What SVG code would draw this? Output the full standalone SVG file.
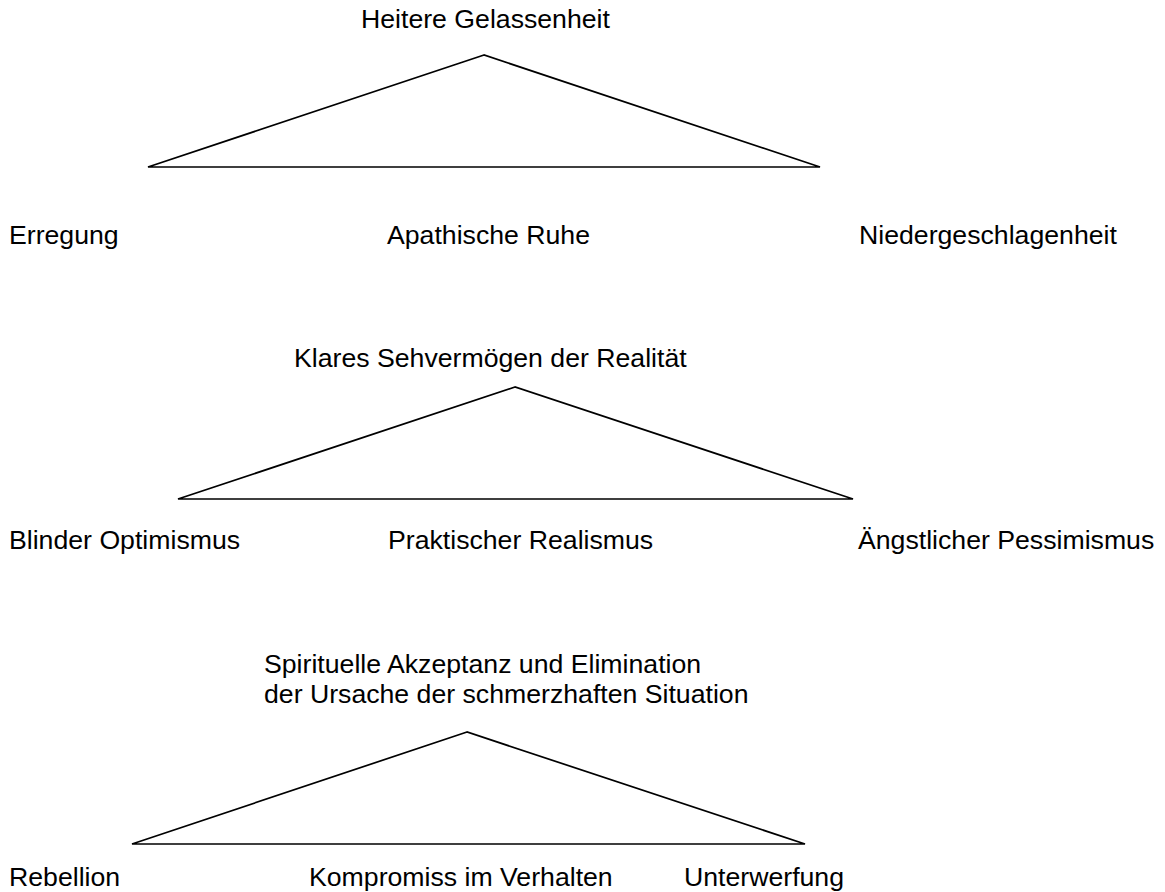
<svg xmlns="http://www.w3.org/2000/svg" width="1165" height="892" viewBox="0 0 1165 892">
<style>
text{font-family:"Liberation Sans",Arial,sans-serif;font-size:26.67px;fill:#000}
.tri{fill:none;stroke:#000;stroke-width:1.7;stroke-linejoin:miter}
</style>
<rect width="1165" height="892" fill="#fff"/>
<g id="connectors">
<polygon class="tri" points="484,55 148,167 820,167"/>
<polygon class="tri" points="515,387 178,499 853,499"/>
<polygon class="tri" points="467,732 132,844 805,844"/>
</g>
<g id="n-heitere"><text x="361" y="28">Heitere Gelassenheit</text></g>
<g id="n-erregung"><text x="9" y="244">Erregung</text></g>
<g id="n-apathische"><text x="387" y="244">Apathische Ruhe</text></g>
<g id="n-nieder"><text x="859" y="244">Niedergeschlagenheit</text></g>
<g id="n-klares"><text x="294" y="367">Klares Sehvermögen der Realität</text></g>
<g id="n-blinder"><text x="9" y="549">Blinder Optimismus</text></g>
<g id="n-praktisch"><text x="388" y="549">Praktischer Realismus</text></g>
<g id="n-aengstlich"><text x="858" y="549">Ängstlicher Pessimismus</text></g>
<g id="n-spirituell"><text x="264" y="673">Spirituelle Akzeptanz und Elimination</text><text x="264" y="703">der Ursache der schmerzhaften Situation</text></g>
<g id="n-rebellion"><text x="9" y="886">Rebellion</text></g>
<g id="n-kompromiss"><text x="309" y="886">Kompromiss im Verhalten</text></g>
<g id="n-unterwerfung"><text x="684" y="886">Unterwerfung</text></g>
</svg>
